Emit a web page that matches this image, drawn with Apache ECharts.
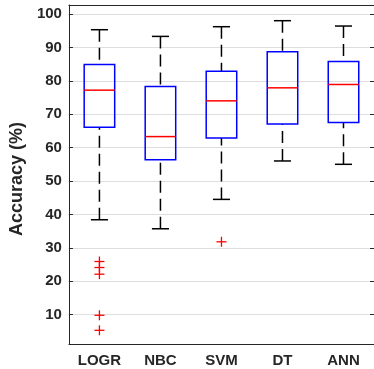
<!DOCTYPE html>
<html>
<head>
<meta charset="utf-8">
<script src="https://cdn.jsdelivr.net/npm/echarts@6/dist/echarts.min.js"></script>
<style>
  html, body { margin: 0; padding: 0; background: #fff; }
  #container { width: 374px; height: 369px; }
</style>
</head>
<body>
<div id="container"></div>
<script>
const categories = ['LOGR', 'NBC', 'SVM', 'DT', 'ANN'];
const whiskerLow = [38.4, 35.7, 44.5, 56.0, 55.0];
const q1 = [66.1, 56.4, 62.9, 67.1, 67.5];
const medians = [77.2, 63.3, 74.0, 77.9, 78.9];
const q3 = [84.9, 78.3, 82.9, 88.7, 85.8];
const whiskerHigh = [95.3, 93.3, 96.2, 98.0, 96.4];
// outliers (category index, value)
const outlierCats = [0, 0, 0, 0, 0, 2];
const outlierValues = [25.9, 24.1, 22.1, 9.8, 5.3, 31.8];
const yTicks = [10, 20, 30, 40, 50, 60, 70, 80, 90, 100];

const font = 'Liberation Sans, Arial, sans-serif';
const ink = '#262626';

const boxData = categories.map((c, i) => [i, whiskerLow[i], q1[i], medians[i], q3[i], whiskerHigh[i]]);
const outlierData = outlierCats.map((c, i) => [c, outlierValues[i]]);

const chart = echarts.init(document.getElementById('container'));

function renderBox(params, api) {
  const i = api.value(0);
  const band = api.size([1, 0])[0];
  const half = band * 0.25;
  const cap = band * 0.14;
  const lo = api.coord([i, api.value(1)]);
  const b1 = api.coord([i, api.value(2)]);
  const md = api.coord([i, api.value(3)]);
  const b3 = api.coord([i, api.value(4)]);
  const hi = api.coord([i, api.value(5)]);
  const x = lo[0];
  const dash = { stroke: '#000', lineWidth: 1.5, lineDash: [12, 6] };
  const solid = { stroke: '#000', lineWidth: 1.5 };
  return {
    type: 'group',
    children: [
      { type: 'line', shape: { x1: x, y1: hi[1], x2: x, y2: b3[1] }, style: dash },
      { type: 'line', shape: { x1: x, y1: lo[1], x2: x, y2: b1[1] }, style: dash },
      { type: 'line', shape: { x1: x - cap, y1: hi[1], x2: x + cap, y2: hi[1] }, style: solid },
      { type: 'line', shape: { x1: x - cap, y1: lo[1], x2: x + cap, y2: lo[1] }, style: solid },
      { type: 'rect', shape: { x: x - half, y: b3[1], width: half * 2, height: b1[1] - b3[1] },
        style: { fill: 'none', stroke: '#0000ff', lineWidth: 1.5 } },
      { type: 'line', shape: { x1: x - half, y1: md[1], x2: x + half, y2: md[1] },
        style: { stroke: '#ff0000', lineWidth: 1.5 } }
    ]
  };
}

function renderOutlier(params, api) {
  const p = api.coord([api.value(0), api.value(1)]);
  const r = 5;
  const st = { stroke: '#ff0000', lineWidth: 1.3 };
  return {
    type: 'group',
    children: [
      { type: 'line', shape: { x1: p[0] - r, y1: p[1], x2: p[0] + r, y2: p[1] }, style: st },
      { type: 'line', shape: { x1: p[0], y1: p[1] - r, x2: p[0], y2: p[1] + r }, style: st }
    ]
  };
}

const option = {
  backgroundColor: '#fff',
  animation: false,
  grid: { left: 60, right: -3, top: 5, bottom: 25 },
  xAxis: [{
    type: 'category',
    data: categories,
    position: 'bottom',
    axisLine: { lineStyle: { color: ink, width: 1 } },
    axisTick: { inside: true, alignWithLabel: true, length: 4, lineStyle: { color: ink } },
    axisLabel: { color: ink, fontFamily: font, fontWeight: 'bold', fontSize: 15, margin: 9 },
    splitLine: { show: false }
  }, {
    type: 'category',
    data: categories,
    position: 'top',
    axisLine: { lineStyle: { color: ink, width: 1 } },
    axisTick: { inside: true, alignWithLabel: true, length: 4, lineStyle: { color: ink } },
    axisLabel: { show: false },
    splitLine: { show: false }
  }],
  yAxis: [{
    type: 'value',
    min: 1.2,
    max: 102.7,
    name: 'Accuracy (%)',
    nameLocation: 'middle',
    nameGap: 34,
    nameTextStyle: { color: ink, fontFamily: font, fontWeight: 'bold', fontSize: 18, padding: [0, 9, 0, 0] },
    axisLine: { show: true, lineStyle: { color: ink, width: 1 } },
    axisTick: { show: true, inside: true, length: 4, customValues: yTicks, lineStyle: { color: ink } },
    axisLabel: { color: ink, fontFamily: font, fontWeight: 'bold', fontSize: 15, margin: 7, customValues: yTicks },
    splitLine: { show: true, lineStyle: { color: '#dedede', width: 1 } }
  }, {
    type: 'value',
    min: 1.2,
    max: 102.7,
    position: 'right',
    axisLine: { show: true, lineStyle: { color: ink, width: 1 } },
    axisTick: { show: true, inside: true, length: 4, customValues: yTicks, lineStyle: { color: ink } },
    axisLabel: { show: false },
    splitLine: { show: false }
  }],
  series: [{
    type: 'custom',
    renderItem: renderBox,
    data: boxData,
    encode: { x: 0, y: [1, 2, 3, 4, 5] },
    z: 3
  }, {
    type: 'custom',
    renderItem: renderOutlier,
    data: outlierData,
    encode: { x: 0, y: 1 },
    z: 4
  }]
};

chart.setOption(option);
</script>
</body>
</html>
